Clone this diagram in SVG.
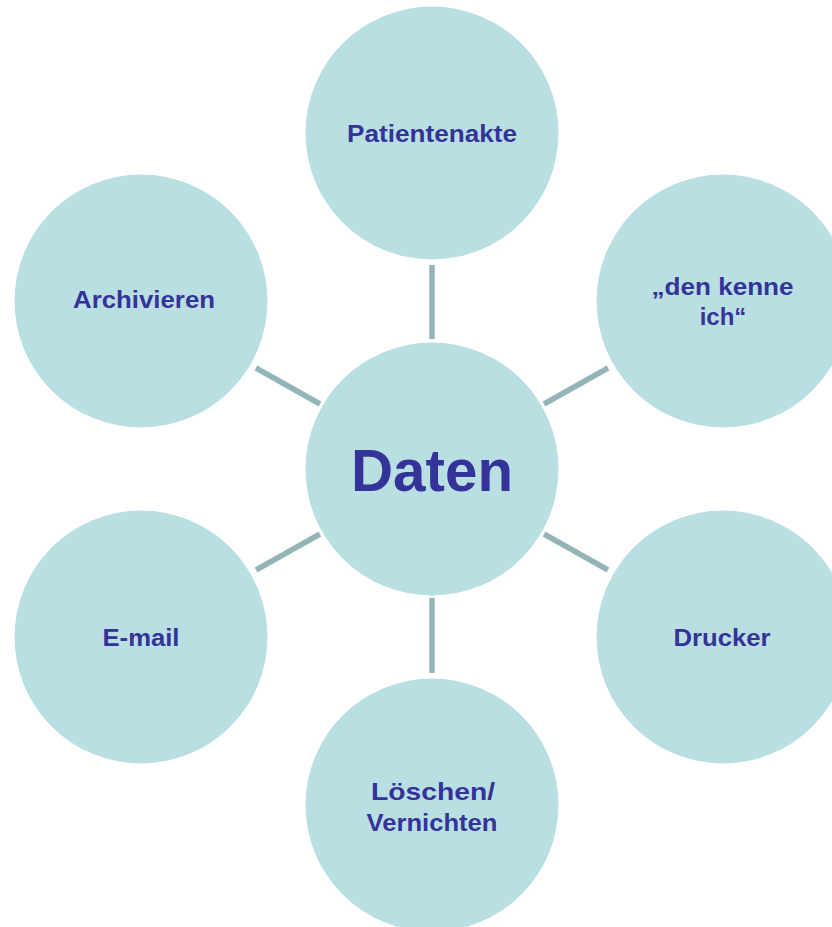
<svg xmlns="http://www.w3.org/2000/svg" width="832" height="927" viewBox="0 0 832 927">
<style>
.c{fill:#b9dfe3}
.l{stroke:#93b5b9;stroke-width:5.5;fill:none}
.t{font-family:"Liberation Sans",Arial,sans-serif;font-weight:bold;fill:#333399;text-anchor:middle;font-size:24px}
.big{font-size:60px}
</style>
<rect width="832" height="927" fill="#ffffff"/>
<g id="connectors">
<line class="l" x1="432" y1="265" x2="432" y2="339"/>
<line class="l" x1="432" y1="598" x2="432" y2="673"/>
<line class="l" x1="256" y1="368" x2="320" y2="404"/>
<line class="l" x1="544" y1="404" x2="608" y2="368"/>
<line class="l" x1="256" y1="570" x2="320" y2="534"/>
<line class="l" x1="544" y1="534" x2="608" y2="570"/>
</g>
<g id="daten"><circle class="c" cx="432" cy="469" r="126.5"/><text class="t big" x="432" y="491" textLength="162" lengthAdjust="spacingAndGlyphs">Daten</text></g>
<g id="patientenakte"><circle class="c" cx="432" cy="133" r="126.5"/><text class="t" x="432" y="142" textLength="170" lengthAdjust="spacingAndGlyphs">Patientenakte</text></g>
<g id="denkenne"><circle class="c" cx="723" cy="301" r="126.5"/><text class="t" x="722.5" y="295" textLength="142" lengthAdjust="spacingAndGlyphs">„den kenne</text><text class="t" x="723" y="325">ich“</text></g>
<g id="drucker"><circle class="c" cx="723" cy="637" r="126.5"/><text class="t" x="722" y="646" textLength="97" lengthAdjust="spacingAndGlyphs">Drucker</text></g>
<g id="loeschen"><circle class="c" cx="432" cy="805" r="126.5"/><text class="t" x="433" y="800" textLength="124" lengthAdjust="spacingAndGlyphs">Löschen/</text><text class="t" x="432" y="831" textLength="131" lengthAdjust="spacingAndGlyphs">Vernichten</text></g>
<g id="email"><circle class="c" cx="141" cy="637" r="126.5"/><text class="t" x="141" y="646" textLength="77" lengthAdjust="spacingAndGlyphs">E-mail</text></g>
<g id="archivieren"><circle class="c" cx="141" cy="301" r="126.5"/><text class="t" x="144" y="308" textLength="142" lengthAdjust="spacingAndGlyphs">Archivieren</text></g>
</svg>
